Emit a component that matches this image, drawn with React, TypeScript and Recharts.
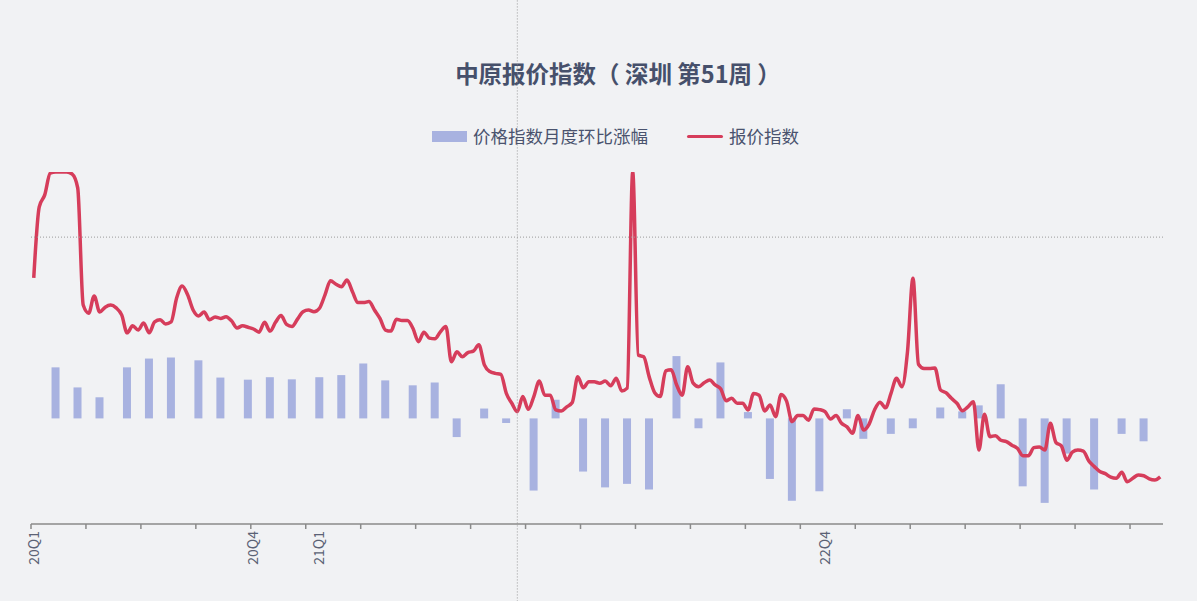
import React from 'react';
import { ComposedChart, Bar, Line, XAxis, YAxis, ReferenceLine } from 'recharts';

// weekly categories, 2020 W1 .. 2023 W50
const weeks: string[] = [];
[2020, 2021, 2022, 2023].forEach((yr) => {
  const n = yr === 2023 ? 50 : 52;
  for (let w = 1; w <= n; w++) weeks.push(`${yr}W${w < 10 ? '0' + w : w}`);
});

// quarter labels shown under the axis
const quarterIdx = [0, 40, 52, 144];
const quarterText = ['20Q1', '20Q4', '21Q1', '22Q4'];

// 报价指数 (weekly)
const indexValues = [
  69.9, 90.1, 93.5, 99.7, 100, 100, 100, 99.4, 95.5, 62.2,
  59.9, 64.8, 60.2, 61.6, 62.2, 61.4, 59.4, 54.3, 56.3, 55.1,
  57.1, 54.3, 57.4, 58.0, 56.8, 57.4, 64.2, 67.6, 65.1, 60.8,
  59.1, 60.2, 58.0, 58.8, 58.4, 58.9, 57.7, 55.7, 56.3, 55.9,
  55.4, 54.5, 57.3, 54.8, 57.3, 59.2, 56.7, 56.1, 58.2, 60.3,
  60.8, 60.3, 61.3, 65.1, 69.1, 68.1, 67.4, 69.3, 66.0, 62.9,
  62.9, 63.2, 60.8, 58.4, 55.1, 54.8, 58.2, 57.8, 57.8, 55.6,
  51.8, 54.5, 52.8, 52.6, 54.6, 56.1, 46.1, 48.9, 47.5, 48.7,
  49.1, 50.9, 45.2, 43.3, 42.8, 42.5, 37.1, 34.3, 31.9, 36.2,
  32.6, 36.2, 40.6, 36.6, 36.6, 32.4, 32.1, 33.3, 34.5, 41.8,
  38.7, 40.4, 40.4, 40.0, 40.6, 39.3, 41.4, 37.8, 38.6, 100,
  48.0, 47.5, 41.8, 37.3, 36.2, 43.5, 43.8, 39.5, 36.6, 44.7,
  40.0, 39.0, 40.1, 40.9, 39.5, 38.4, 35.0, 35.7, 34.3, 34.3,
  32.4, 37.1, 36.6, 32.1, 33.8, 30.5, 36.8, 34.9, 29.1, 30.8,
  30.8, 29.5, 32.7, 32.5, 31.9, 29.8, 30.8, 28.6, 27.6, 25.8,
  30.8, 26.7, 28.3, 32.4, 34.6, 33.0, 37.1, 41.4, 39.0, 48.9,
  69.8, 45.4, 44.2, 44.2, 44.3, 38.1, 37.3, 35.7, 34.3, 32.2,
  33.3, 34.7, 21.0, 31.2, 24.8, 25.1, 23.8, 23.4, 22.4, 21.5,
  19.4, 19.4, 21.7, 21.9, 21.0, 28.6, 23.2, 22.2, 18.1, 20.4,
  21.0, 20.7, 17.9, 16.3, 14.9, 14.3, 13.3, 13.0, 14.7, 12.0,
  13.0, 13.9, 13.7, 12.8, 12.5, 13.4,
];

// 价格指数月度环比涨幅 (monthly, %), placed on the week it was published
const changeWeek = [
  4, 8, 12, 17, 21, 25, 30, 34, 39, 43, 47, 52, 56, 60, 64, 69,
  73, 77, 82, 86, 91, 95, 100, 104, 108, 112, 117, 121, 125, 130, 134, 138,
  143, 148, 151, 156, 160, 165, 169, 172, 176, 180, 184, 188, 193, 198, 202,
];
const changeValues = [
  1.45, 0.88, 0.6, 1.45, 1.7, 1.73, 1.65, 1.16, 1.1, 1.17, 1.11, 1.17, 1.23, 1.56, 1.08, 0.94,
  1.02, -0.53, 0.28, -0.13, -2.05, 0.53, -1.51, -1.96, -1.86, -2.02, 1.77, -0.28, 1.59, 0.18, -1.72, -2.34,
  -2.07, 0.26, -0.58, -0.44, -0.28, 0.31, 0.2, 0.37, 0.97, -1.93, -2.4, -1.0, -2.02, -0.44, -0.65,
];

const data = weeks.map((w, i) => {
  const k = changeWeek.indexOf(i);
  return { week: w, index: indexValues[i], change: k >= 0 ? changeValues[k] : null };
});

const W = 1197;
const H = 601;
const M = { top: 172, right: 34, bottom: 17, left: 31 };
const BAND = (W - M.left - M.right) / weeks.length;
const FONT = '"Noto Sans CJK SC", "Noto Sans", sans-serif';
const BAR = '#a8b2e0';
const RED = '#d63d5b';
const TXT = '#4a536e';

const AxisTick = (props: any) => {
  const { x, y, index } = props;
  const k = quarterIdx.indexOf(index);
  return (
    <g>
      {index % 10 === 0 && (
        <line x1={x - BAND / 2} x2={x - BAND / 2} y1={y - 5} y2={y} stroke="#8a8a8a" strokeWidth={1.5} />
      )}
      {k >= 0 && (
        <text
          x={x}
          y={y + 2}
          transform={`rotate(-90 ${x} ${y + 2})`}
          textAnchor="end"
          dy="0.35em"
          fontSize={14}
          fill="#5b6275"
          fontFamily={FONT}
        >
          {quarterText[k]}
        </text>
      )}
    </g>
  );
};

const WideBar = (props: any) => {
  const { x, y, width, height, fill } = props;
  if (x == null || height == null || !height) return null;
  const cx = x + width / 2;
  return <rect x={cx - 4} y={Math.min(y, y + height)} width={8} height={Math.abs(height)} fill={fill} />;
};

export default function App() {
  return (
    <div style={{ position: 'absolute', left: 0, top: 0, width: W, height: H, background: '#f1f2f4', fontFamily: FONT }}>
      <div style={{ position: 'absolute', left: 368, width: 500, top: 56, textAlign: 'center', fontSize: 23.5, fontWeight: 'bold', color: '#46506b', lineHeight: '34px' }}>
        中原报价指数（ 深圳 第51周 ）
      </div>
      <div style={{ position: 'absolute', left: 432, top: 131, width: 35, height: 11, background: BAR }} />
      <div style={{ position: 'absolute', left: 473, top: 122, fontSize: 17.5, color: TXT, lineHeight: '28px' }}>
        价格指数月度环比涨幅
      </div>
      <div style={{ position: 'absolute', left: 687, top: 134.5, width: 36, height: 3, borderRadius: 2, background: RED }} />
      <div style={{ position: 'absolute', left: 729, top: 122, fontSize: 17.5, color: TXT, lineHeight: '28px' }}>
        报价指数
      </div>
      <div style={{ position: 'absolute', left: 0, top: 0 }}>
        <ComposedChart width={W} height={H} data={data} margin={M}>
          <XAxis
            dataKey="week"
            height={60}
            interval={0}
            tick={<AxisTick />}
            tickLine={false}
            tickSize={5}
            tickMargin={0}
            axisLine={{ stroke: '#8a8a8a', strokeWidth: 1.5 }}
          />
          <YAxis yAxisId="chg" hide domain={[-3, 7]} allowDataOverflow />
          <YAxis yAxisId="idx" hide domain={[0, 100]} allowDataOverflow orientation="right" />
          <Bar yAxisId="chg" dataKey="change" fill={BAR} shape={<WideBar />} isAnimationActive={false} />
          <Line
            yAxisId="idx"
            type="monotone"
            dataKey="index"
            stroke={RED}
            strokeWidth={3.5}
            strokeLinejoin="round"
            dot={false}
            activeDot={false}
            isAnimationActive={false}
          />
          <ReferenceLine
            yAxisId="idx"
            segment={[{ x: weeks[88], y: -22 }, { x: weeks[88], y: 149 }]}
            ifOverflow="visible"
            stroke="#9a9a9a"
            strokeDasharray="1 2"
          />
          <ReferenceLine yAxisId="idx" y={81.5} stroke="#9a9a9a" strokeDasharray="1 2" />
        </ComposedChart>
      </div>
    </div>
  );
}
